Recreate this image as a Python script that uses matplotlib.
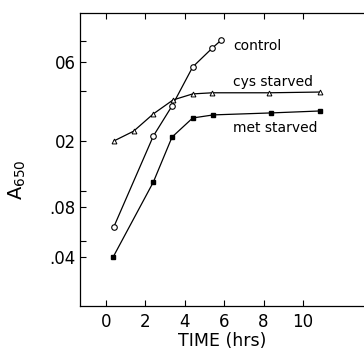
import matplotlib
matplotlib.use('Agg')
import matplotlib.pyplot as plt
import matplotlib.ticker as ticker

# values (time in hrs, A650 on log scale)
control_t = [0.4, 2.4, 3.35, 4.4, 5.4, 5.85]
control_a = [0.061, 0.214, 0.325, 0.558, 0.726, 0.81]

cys_t = [0.4, 1.4, 2.4, 3.4, 4.4, 5.4, 8.3, 10.85]
cys_a = [0.20, 0.229, 0.291, 0.353, 0.384, 0.39, 0.39, 0.394]

met_t = [0.36, 2.4, 3.35, 4.4, 5.45, 8.4, 10.85]
met_a = [0.040, 0.113, 0.211, 0.275, 0.287, 0.295, 0.303]

x_ticks = [0, 2, 4, 6, 8, 10]
y_ticks = [0.04, 0.08, 0.2, 0.6]
y_tick_labels = ['.04', '.08', '02', '06']
y_minor = [0.05, 0.1, 0.4, 0.8]

fig = plt.figure(figsize=(3.64, 3.5), dpi=100)
ax = fig.add_axes([0.22, 0.126, 0.78, 0.837])

ax.plot(control_t, control_a, color='black', lw=0.9, marker='o', ms=4,
        mfc='white', mec='black', mew=0.8)
ax.plot(cys_t, cys_a, color='black', lw=0.9, marker='^', ms=3.5,
        mfc='white', mec='black', mew=0.7)
ax.plot(met_t, met_a, color='black', lw=0.9, marker='s', ms=3.5,
        mfc='black', mec='black')

ax.set_yscale('log')
ax.set_xlim(-1.32, 13.1)
ax.set_ylim(0.0203, 1.18)

ax.set_xticks(x_ticks)
ax.set_xticklabels([str(v) for v in x_ticks])
ax.yaxis.set_major_locator(ticker.FixedLocator(y_ticks))
ax.yaxis.set_major_formatter(ticker.FixedFormatter(y_tick_labels))
ax.yaxis.set_minor_locator(ticker.FixedLocator(y_minor))
ax.yaxis.set_minor_formatter(ticker.NullFormatter())

ax.tick_params(axis='both', which='both', direction='in', length=4,
               width=0.8, labelsize=12, top=True, right=False, pad=5)
ax.tick_params(axis='y', which='both', pad=3)

ax.spines['right'].set_visible(False)
for s in ['left', 'bottom', 'top']:
    ax.spines[s].set_linewidth(0.9)

ax.text(6.45, 0.75, 'control', fontsize=10, va='center', ha='left')
ax.text(6.45, 0.455, 'cys starved', fontsize=10, va='center', ha='left')
ax.text(6.45, 0.238, 'met starved', fontsize=10, va='center', ha='left')

ax.set_xlabel('TIME (hrs)', fontsize=12.5, labelpad=1)
ax.set_ylabel('A$_{650}$', fontsize=14)
ax.yaxis.set_label_coords(-0.185, 0.43)

fig.savefig('out.png', dpi=100)
